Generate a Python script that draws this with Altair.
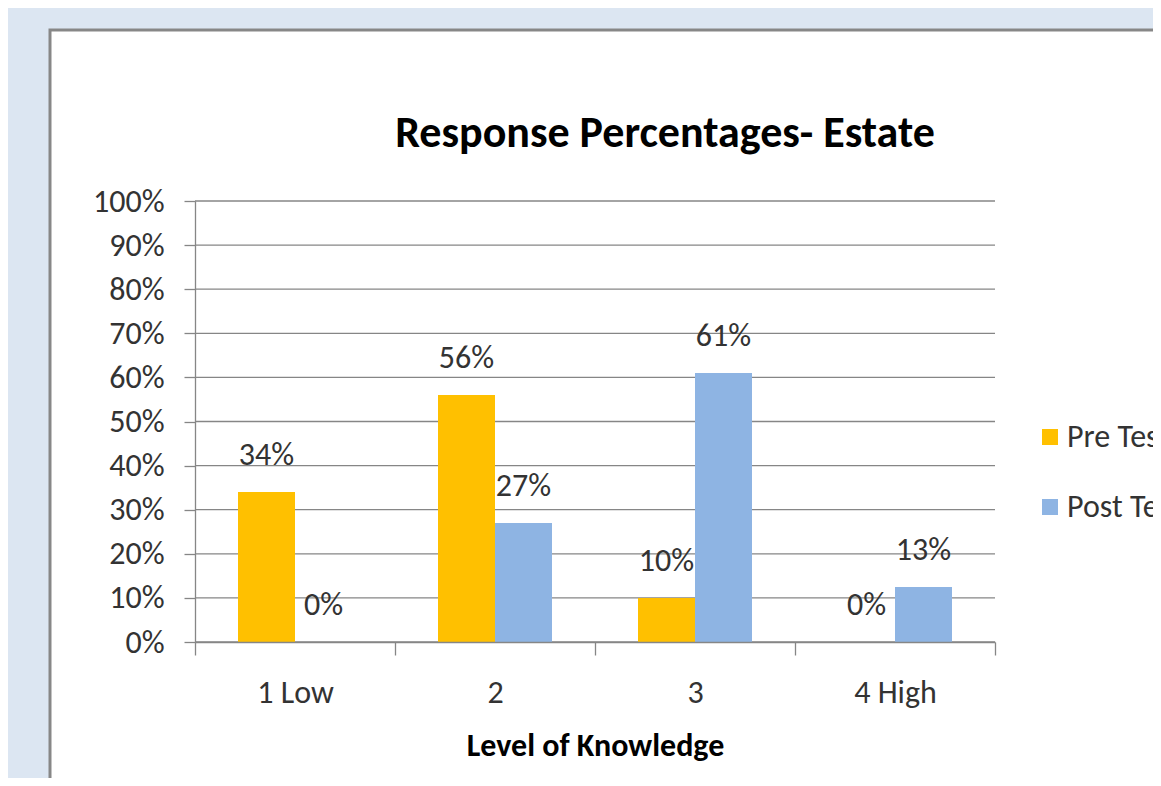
import altair as alt
import pandas as pd

levels = ["1 Low", "2", "3", "4 High"]
series = ["Pre Test", "Post Test"]
pre_test = [0.34, 0.56, 0.10, 0.00]
post_test = [0.00, 0.27, 0.61, 0.125]
y_ticks = [0.0, 0.1, 0.2, 0.3, 0.4, 0.5, 0.6, 0.7, 0.8, 0.9, 1.0]
colors = ["#FFC000", "#8EB4E3"]

FONT = "Liberation Sans Narrow, Carlito, Roboto Condensed, Lato, sans-serif"

rows = []
for lvl, a, b in zip(levels, pre_test, post_test):
    rows.append({"level": lvl, "series": series[0], "value": a})
    rows.append({"level": lvl, "series": series[1], "value": b})
df = pd.DataFrame(rows)
grid_df = pd.DataFrame({"v": y_ticks})

x_enc = alt.X(
    "level:N",
    sort=levels,
    scale=alt.Scale(paddingInner=0, paddingOuter=0),
    axis=alt.Axis(
        title="Level of Knowledge", labelAngle=0, tickBand="extent",
        tickSize=13, tickColor="#868686", domainColor="#868686",
        tickWidth=1.3, domainWidth=1.3,
        labelFontSize=32, labelPadding=22, labelColor="#333333",
        titleFontSize=32, titleFontWeight="bold", titleColor="#000000",
        titlePadding=22, grid=False, zindex=1,
    ),
)
xoff_enc = alt.XOffset(
    "series:N", sort=series,
    scale=alt.Scale(paddingInner=0, paddingOuter=0.7544),
)
y_enc = alt.Y(
    "value:Q",
    scale=alt.Scale(domain=[0, 1]),
    axis=alt.Axis(
        format=".0%", values=y_ticks, tickSize=11, labelPadding=20,
        grid=False, domainColor="#868686", tickColor="#868686",
        tickWidth=1.3, domainWidth=1.3,
        labelFontSize=32, labelColor="#333333", title=None, zindex=1,
    ),
)

panel = alt.Chart(alt.Data(values=[{}])).mark_rect(
    fill="white", stroke="#878787", strokeWidth=3
).encode(
    x=alt.value(-145), x2=alt.value(1000),
    y=alt.value(-171), y2=alt.value(620),
)

grid = alt.Chart(grid_df).mark_rule(color="#868686", strokeWidth=1.3).encode(
    y=alt.Y("v:Q")
)

bars = alt.Chart(df).mark_bar().encode(
    x=x_enc,
    xOffset=xoff_enc,
    y=y_enc,
    color=alt.Color(
        "series:N", sort=series,
        scale=alt.Scale(domain=series, range=colors),
        legend=alt.Legend(
            title=None, orient="none", legendX=839, legendY=220,
            symbolType="square", symbolSize=256, symbolStrokeWidth=0,
            labelFontSize=32, labelColor="#333333", rowPadding=38,
            labelOffset=1, padding=0,
        ),
    ),
)

texts = alt.Chart(df).mark_text(
    baseline="alphabetic", dy=-27, fontSize=32, color="#333333", font=FONT
).encode(
    x=alt.X("level:N", sort=levels),
    xOffset=alt.XOffset("series:N", sort=series),
    y="value:Q",
    text=alt.Text("value:Q", format=".0%"),
)

chart = alt.layer(panel, grid, bars, texts).properties(
    width=800,
    height=441,
    background="#dce6f2",
    padding={"left": 187, "top": 193, "right": 158, "bottom": 136},
    autosize=alt.AutoSizeParams(type="none"),
    title=alt.TitleParams(
        "Response Percentages- Estate", fontSize=44, fontWeight="bold",
        anchor="middle", frame="group", dx=70, offset=-127, color="#000000",
        font=FONT,
    ),
).configure(font=FONT).configure_view(stroke=None)

chart.save("out.html", embed_options={"renderer": "svg", "actions": False})
